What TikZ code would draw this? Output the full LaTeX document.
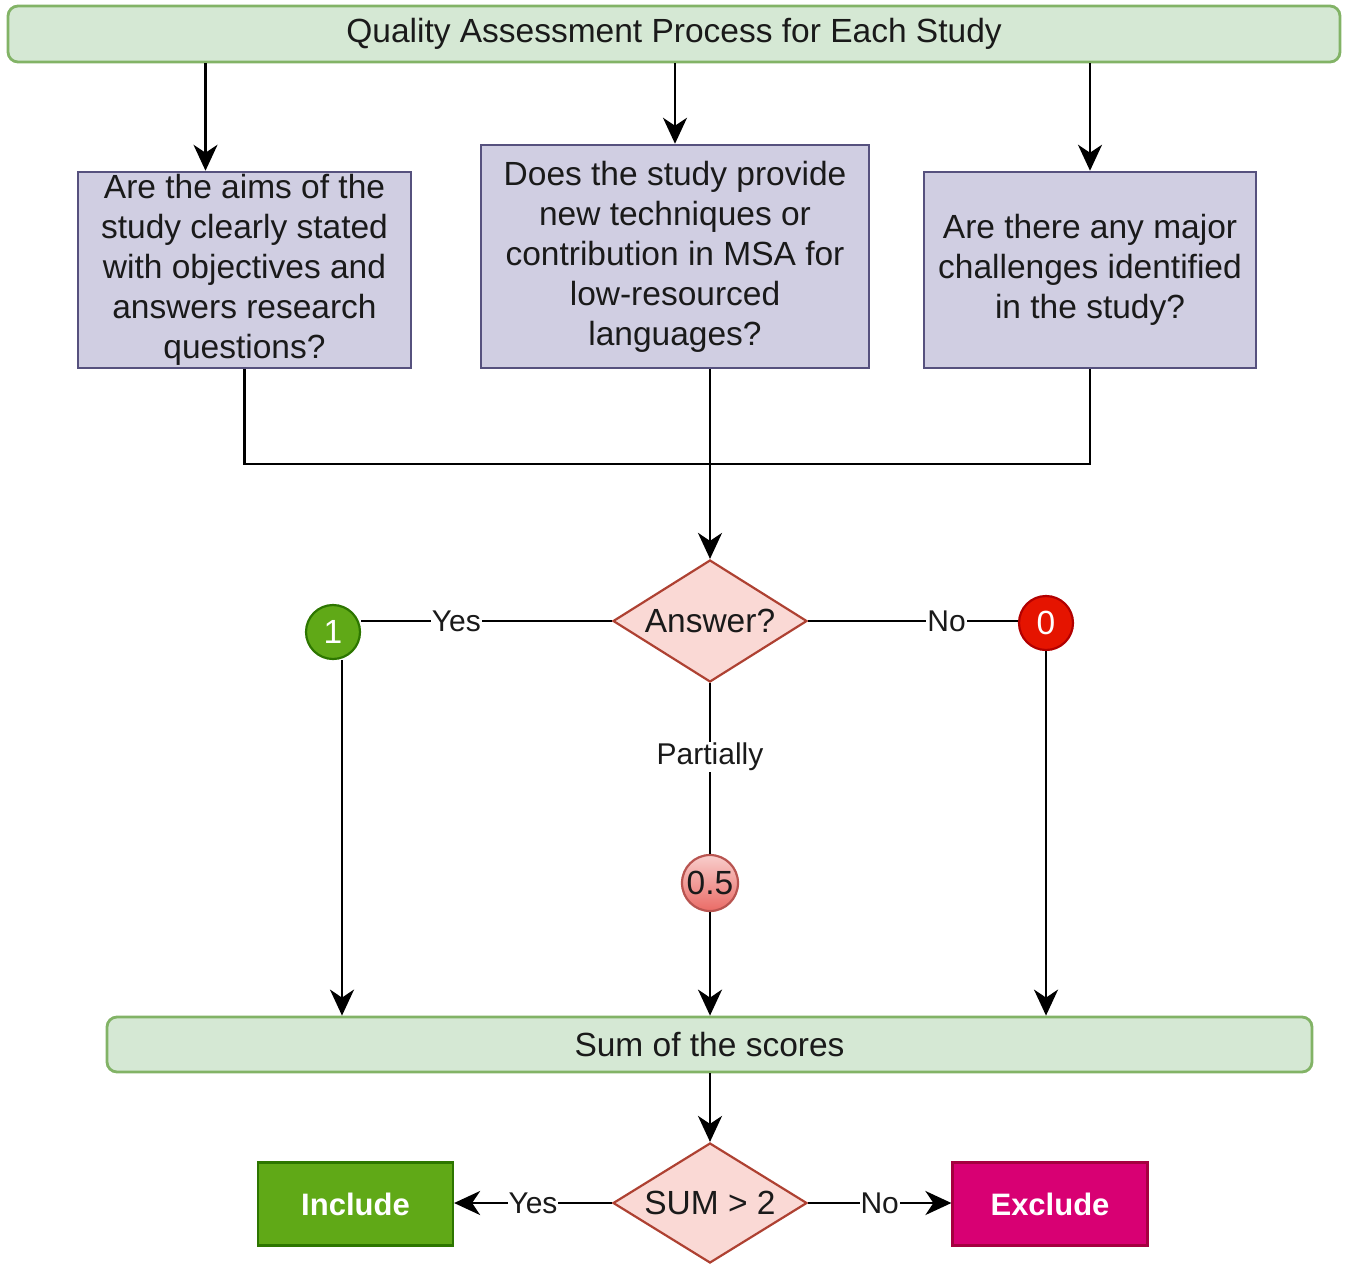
\documentclass[tikz,border=0pt]{standalone}
\usepackage{fontspec}
\setmainfont{Liberation Sans}
\usetikzlibrary{shapes.geometric,arrows.meta}
\definecolor{gfill}{HTML}{D5E8D4}
\definecolor{gline}{HTML}{82B366}
\definecolor{pfill}{HTML}{D0CEE2}
\definecolor{pline}{HTML}{56517E}
\definecolor{dfill}{HTML}{FAD9D5}
\definecolor{dline}{HTML}{AE4132}
\definecolor{okfill}{HTML}{60A917}
\definecolor{okline}{HTML}{2D7600}
\definecolor{nofill}{HTML}{E51400}
\definecolor{noline}{HTML}{B20000}
\definecolor{ptop}{HTML}{F8CECC}
\definecolor{pbot}{HTML}{EA6B66}
\definecolor{pline2}{HTML}{B85450}
\definecolor{exfill}{HTML}{D80073}
\definecolor{exline}{HTML}{A50040}
\definecolor{txt}{HTML}{1A1A1A}
\begin{document}
\begin{tikzpicture}[x=1pt,y=-1pt,
  every node/.style={text=txt},
  mainfont/.style={font=\fontsize{33.5}{40}\selectfont},
  bar/.style={draw=gline,fill=gfill,line width=2.8pt,rounded corners=10pt,inner sep=0pt,mainfont},
  qbox/.style={draw=pline,fill=pfill,line width=2.5pt,inner sep=0pt,align=center,mainfont},
  dec/.style={diamond,draw=dline,fill=dfill,line width=2.2pt,inner sep=0pt,shape aspect=1.6,mainfont},
  score/.style={circle,line width=2.2pt,inner sep=0pt,minimum size=54pt,mainfont},
  outbox/.style={line width=2.2pt,inner sep=0pt,minimum width=195pt,minimum height=83pt,text=white,font=\fontsize{31}{38}\selectfont\bfseries},
  edge/.style={line width=2.6pt,draw=black},
  arr/.style={edge,-{Stealth[length=26pt,width=24pt,inset=8pt]}},
  lbl/.style={fill=white,inner sep=1pt,text=txt,font=\fontsize{30}{34}\selectfont}
]
\useasboundingbox (0,0) rectangle (1348,1263);

\node[bar,minimum width=1332pt,minimum height=56pt] (top) at (674,34) {Quality Assessment Process for Each Study};

\node[qbox,minimum width=333pt,minimum height=196pt] (q1) at (244.5,270) {Are the aims of the\\study clearly stated\\with objectives and\\answers research\\questions?};
\node[qbox,minimum width=388pt,minimum height=223pt] (q2) at (675,256.5) {Does the study provide\\new techniques or\\contribution in MSA for\\low-resourced\\languages?};
\node[qbox,minimum width=332pt,minimum height=196pt] (q3) at (1090,270) {Are there any major\\challenges identified\\in the study?};

\node[dec,minimum width=194pt,minimum height=122pt] (ans) at (710,621) {Answer?};

\node[score,draw=okline,fill=okfill,text=white] (c1) at (333,632) {1};
\node[score,draw=noline,fill=nofill,text=white] (c0) at (1046,623) {0};
\node[score,draw=pline2,top color=ptop,bottom color=pbot,minimum size=56pt] (c5) at (710,883) {0.5};

\node[bar,minimum width=1205pt,minimum height=55pt] (sum) at (709.5,1044.5) {Sum of the scores};

\node[dec,minimum width=194pt,minimum height=120pt] (fin) at (710,1203) {SUM > 2};

\node[outbox,draw=okline,fill=okfill] (inc) at (355.5,1204) {Include};
\node[outbox,draw=exline,fill=exfill] (exc) at (1050,1204) {Exclude};

\coordinate (bus) at (0,464);

% top arrows
\draw[arr] ([xshift=-39pt]q1.north |- top.south) -- ([xshift=-39pt]q1.north);
\draw[arr] (q2.north |- top.south) -- (q2.north);
\draw[arr] (q3.north |- top.south) -- (q3.north);

% merge
\draw[edge] (q1.south) -- (q1.south |- bus) -- (q3.south |- bus) -- (q3.south);
\draw[arr] (ans.north |- q2.south) -- (ans.north);

% answers
\draw[edge] (ans.west) -- node[lbl,pos=0.62] {Yes} (ans.west -| c1.east);
\draw[edge] (ans.east) -- node[lbl,pos=0.66] {No} (ans.east -| c0.west);
\draw[edge] (ans.south) -- node[lbl,pos=0.43] {Partially} (c5.north);

\draw[arr] ([xshift=9pt]c1.south) -- ([xshift=9pt]c1.south |- sum.north);
\draw[arr] (c0.south) -- (c0.south |- sum.north);
\draw[arr] (c5.south) -- (c5.south |- sum.north);

\draw[arr] (fin.north |- sum.south) -- (fin.north);

\draw[arr] (fin.west) -- node[lbl,pos=0.5] {Yes} (fin.west -| inc.east);
\draw[arr] (fin.east) -- node[lbl,pos=0.5] {No} (fin.east -| exc.west);
\end{tikzpicture}
\end{document}
